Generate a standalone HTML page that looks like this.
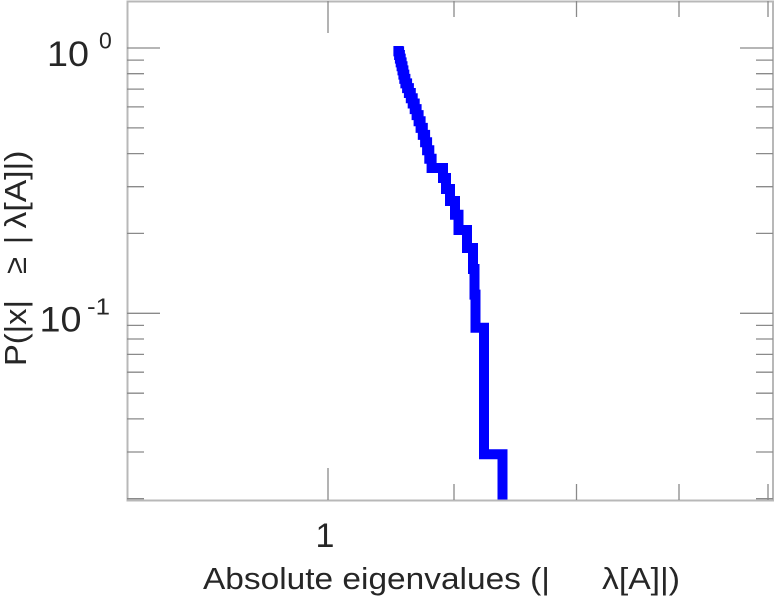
<!DOCTYPE html>
<html>
<head>
<meta charset="utf-8">
<style>
html,body{margin:0;padding:0;background:#ffffff;}
svg{display:block;}
text{font-family:"Liberation Sans",Arial,sans-serif;fill:#262626;}
</style>
</head>
<body>
<svg width="775" height="600" viewBox="0 0 775 600" xmlns="http://www.w3.org/2000/svg">
<defs>
<clipPath id="pa"><rect x="127" y="1" width="646" height="499.5"/></clipPath>
</defs>
<rect x="0" y="0" width="775" height="600" fill="#ffffff"/>

<!-- data line -->
<path clip-path="url(#pa)" fill="none" stroke="#0000ff" stroke-width="10" stroke-linejoin="miter" stroke-linecap="butt"
d="M398.4,46 V51.4 H399.1 V55 H399.9 V58.6 H400.7 V62.4 H401.6 V66.3 H402.5 V70.4 H403.4 V74.6 H404.3 V78.9 H405.4 V83.4 H407.1 V88.1 H408.9 V93 H410.8 V98.2 H412.7 V103.5 H414.7 V109.1 H416.6 V115.1 H418.6 V121.3 H420.6 V127.9 H422.8 V134.9 H425.1 V142.3 H427.1 V150.2 H429.3 V158.8 H431.6 V168 H443 V178 H446 V189 H450 V201 H455 V214.7 H458.5 V230 H467 V248 H473 V269 H474.5 V294.6 H475.5 V327.7 H484 V454.3 H502.5 V512"/>

<!-- frame -->
<rect x="127.5" y="1.5" width="645.5" height="499" fill="none" stroke="#b8b8b8" stroke-width="2"/>

<!-- ticks -->
<g stroke="#8a8a8a" stroke-width="1.3" fill="none">
  <!-- y major -->
  <path d="M127,48 H160 M773,48 H740 M127,313.3 H160 M773,313.3 H740"/>
  <!-- y minor -->
  <path d="M127,60.1 H144 M127,73.7 H144 M127,89.1 H144 M127,106.9 H144 M127,127.9 H144 M127,153.6 H144 M127,186.7 H144 M127,233.4 H144
           M127,325.4 H144 M127,339 H144 M127,354.4 H144 M127,372.2 H144 M127,393.2 H144 M127,418.9 H144 M127,452 H144 M127,498.7 H144
           M773,60.1 H756 M773,73.7 H756 M773,89.1 H756 M773,106.9 H756 M773,127.9 H756 M773,153.6 H756 M773,186.7 H756 M773,233.4 H756
           M773,325.4 H756 M773,339 H756 M773,354.4 H756 M773,372.2 H756 M773,393.2 H756 M773,418.9 H756 M773,452 H756 M773,498.7 H756"/>
  <!-- x major -->
  <path d="M328,500 V468 M328,1 V33"/>
  <!-- x minor -->
  <path d="M454,500 V484 M576.5,500 V484 M679,500 V484 M768,500 V484
           M454,1 V17 M576.5,1 V17 M679,1 V17 M768,1 V17"/>
</g>

<!-- y tick labels -->
<text x="47" y="66" font-size="35" textLength="42" lengthAdjust="spacingAndGlyphs">10</text>
<text x="99" y="48.3" font-size="23">0</text>
<text x="39.5" y="331.7" font-size="35" textLength="42" lengthAdjust="spacingAndGlyphs">10</text>
<text x="87" y="314.3" font-size="23" textLength="23" lengthAdjust="spacingAndGlyphs">-1</text>

<!-- x tick label -->
<text x="325" y="547" font-size="34" text-anchor="middle">1</text>

<!-- x axis label -->
<text x="203" y="589" font-size="31" textLength="347" lengthAdjust="spacingAndGlyphs">Absolute eigenvalues (|</text>
<text x="602" y="589" font-size="31" textLength="78" lengthAdjust="spacingAndGlyphs">λ[A]|)</text>

<!-- y axis label (rotated) -->
<text transform="translate(26,366) rotate(-90)" font-size="31" textLength="66" lengthAdjust="spacingAndGlyphs">P(|x|</text>
<text transform="translate(26,274) rotate(-90)" font-size="31">≥</text>
<text transform="translate(26,244) rotate(-90)" font-size="31">|</text>
<text transform="translate(26,228.5) rotate(-90)" font-size="31" textLength="78" lengthAdjust="spacingAndGlyphs">λ[A]|)</text>
</svg>
</body>
</html>
